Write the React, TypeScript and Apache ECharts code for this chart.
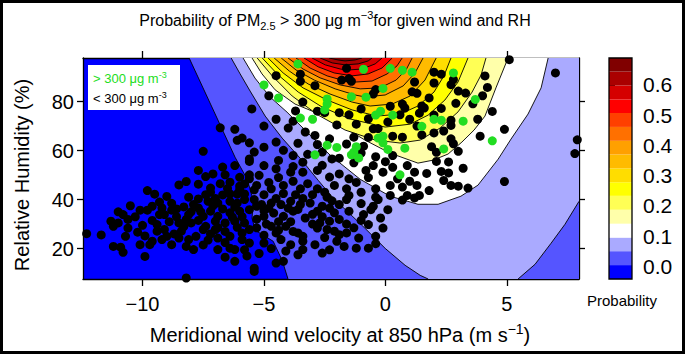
import React, { useEffect, useRef } from "react";
import * as echarts from "echarts";

const FONT = "'Liberation Sans', Arial, sans-serif";

// Axis limits and ticks
const X_MIN = -12.45;
const X_MAX = 7.97;
const Y_MIN = 7.6;
const Y_MAX = 97.8;
const xTicks = [-10, -5, 0, 5];
const yTicks = [20, 40, 60, 80];
const probTicks = [0, 0.1, 0.2, 0.3, 0.4, 0.5, 0.6];

// Probability levels of the filled contours (16 bands)
const levels = [-0.042, 0.004, 0.05, 0.095, 0.141, 0.187, 0.233, 0.278, 0.324, 0.37, 0.415, 0.461, 0.507, 0.552, 0.598, 0.644, 0.689];
const bandColors = ["#0000FF", "#5555FF", "#AAAAFF", "#FFFFFF", "#FFFFAA", "#FFFF55", "#FFFF00", "#FFDD00", "#FFBB00", "#FFA000", "#FF7000", "#FF4000", "#FF0000", "#D50000", "#AA0000", "#800000"];

// Contour lines (wind, RH)
const contour1 = [[-8.08, 97.8], [-7.05, 75.8], [-6.19, 57.3], [-5.69, 48.3], [-5.44, 39.8], [-5.49, 32.4], [-5.36, 27.5], [-4.62, 23.0], [-4.25, 15.2], [-4.01, 7.6]];
const contour2a = [[-6.35, 97.8], [-5.98, 91.3], [-5.57, 84.3], [-4.95, 74.1], [-4.25, 65.1], [-3.51, 56.9], [-2.77, 47.9], [-2.15, 40.6], [-1.58, 35.3], [-0.84, 28.3], [-0.01, 20.1], [0.81, 13.2], [1.43, 9.1], [1.76, 7.6]];
const contour2b = [[5.46, 7.6], [6.16, 13.6], [6.82, 22.2], [7.39, 29.9], [7.97, 39.3]];
const contour3 = [[-5.86, 97.8], [-5.37, 89.6], [-4.75, 81.9], [-4.05, 75.7], [-3.31, 68.4], [-2.28, 58.2], [-1.04, 48.3], [0.19, 41.4], [1.34, 38.1], [2.17, 38.1], [3.11, 41.4], [3.81, 45.9], [4.64, 56.5], [5.17, 64.7], [5.87, 74.9], [6.41, 85.6], [6.7, 97.8]];
const contour4 = [[-5.49, 97.8], [-5.08, 91.3], [-4.54, 84.8], [-3.72, 79.0], [-2.81, 75.3], [-1.86, 70.4], [-0.84, 64.3], [0.19, 59.0], [1.34, 54.9], [1.96, 56.1], [2.58, 58.6], [3.15, 63.5], [3.65, 68.4], [4.1, 74.1], [4.55, 85.6], [5.05, 97.8]];
const contour5 = [[-5.28, 97.8], [-4.66, 90.5], [-3.84, 82.3], [-2.77, 74.5], [-1.66, 68.4], [-0.42, 64.3], [0.6, 63.1], [1.43, 64.3], [2.25, 69.2], [2.99, 75.8], [3.57, 83.9], [3.94, 90.9], [4.14, 97.8]];
const contour6 = [[-5.07, 97.8], [-4.42, 90.9], [-3.59, 83.9], [-2.61, 77.8], [-1.45, 72.9], [-0.01, 69.6], [1.02, 70.8], [1.76, 74.5], [2.45, 80.65], [2.99, 88.0], [3.4, 97.8]];
const contour7 = [[-4.83, 97.8], [-4.21, 91.7], [-3.39, 85.6], [-2.4, 80.65], [-1.37, 76.6], [-0.34, 74.1], [0.6, 74.9], [1.34, 78.2], [2.0, 83.9], [2.41, 90.5], [2.7, 97.8]];
const contour8 = [[-4.58, 97.8], [-3.96, 92.5], [-3.18, 87.2], [-2.28, 83.1], [-1.37, 79.8], [-0.63, 78.2], [0.28, 79.0], [1.02, 82.3], [1.63, 88.8], [2.09, 97.8]];
const contour9 = [[-4.29, 97.8], [-3.68, 92.9], [-2.93, 88.8], [-2.07, 85.2], [-1.25, 82.7], [-0.84, 81.9], [-0.01, 82.7], [0.73, 86.4], [1.22, 91.7], [1.55, 97.8]];
const contour10 = [[-4.01, 97.8], [-3.39, 93.3], [-2.69, 89.7], [-1.86, 86.8], [-1.04, 85.2], [-0.22, 85.6], [0.44, 88.8], [0.85, 92.9], [1.1, 97.8]];
const contour11 = [[-3.68, 97.8], [-3.1, 93.7], [-2.4, 90.5], [-1.66, 88.4], [-1.21, 88.0], [-0.55, 88.4], [0.07, 91.3], [0.48, 94.6], [0.69, 97.8]];
const contour12 = [[-3.35, 97.8], [-2.77, 94.2], [-2.11, 91.7], [-1.37, 90.5], [-0.71, 91.3], [-0.14, 93.7], [0.28, 97.8]];
const contour13 = [[-3.02, 97.8], [-2.48, 95.0], [-1.86, 93.3], [-1.54, 92.9], [-0.96, 93.3], [-0.42, 95.4], [-0.14, 97.8]];
const contour14 = [[-2.69, 97.8], [-2.19, 95.8], [-1.66, 95.0], [-1.12, 95.4], [-0.71, 96.6], [-0.55, 97.8]];
const contour15 = [[-2.32, 97.8], [-1.95, 97.0], [-1.66, 96.6], [-1.25, 97.0], [-0.96, 97.8]];

// Observations with PM2.5 > 300 (green)
const highPoints = [[-3.6, 95.4], [-0.9, 93.2], [0.2, 93.6], [0.7, 92.8], [1.1, 92.0], [-5.0, 86.8], [-4.4, 81.5], [-2.4, 81.1], [-2.4, 79.0], [-2.5, 76.6], [-1.4, 82.0], [-0.8, 81.8], [-0.1, 85.4], [-0.2, 76.1], [-0.4, 74.5], [0.3, 74.5], [2.8, 91.7], [3.7, 80.9], [2.0, 72.8], [2.3, 72.4], [1.5, 69.9], [3.2, 72.0], [4.4, 64.0], [2.4, 60.7], [-3.5, 73.3], [-3.0, 72.8], [-0.3, 65.1], [-0.1, 65.9], [-0.1, 63.2], [0.1, 60.5], [0.8, 61.0], [-1.2, 61.6], [-1.3, 59.4], [-1.4, 58.3], [-1.1, 57.0], [-2.0, 61.3], [-2.4, 62.2], [-2.9, 58.3], [0.6, 50.1]];

// Observations with PM2.5 < 300 (black)
const lowPoints = [
  [-1.6, 93.6], [-3.5, 91.2], [-3.5, 88.3], [-4.5, 90.6], [-1.8, 88.8], [-1.5, 89.4], [-1.4, 88.3], [-2.9, 86.5], [1.2, 88.0], [-0.4, 84.9], [-0.5, 83.1], [1.1, 84.0], [1.3, 83.4], [-4.8, 82.4], [-3.4, 79.8], [-3.7, 76.2], [-2.8, 76.1], [-1.9, 75.5], [-1.0, 77.0], [0.2, 78.1], [0.7, 79.0], [0.8, 77.4], [1.4, 75.3], [-5.5, 77.0],
  [2.0, 92.0], [2.3, 91.2], [2.8, 89.0], [2.7, 86.9], [2.0, 87.6], [4.1, 90.5], [4.2, 85.8], [3.0, 84.3], [3.3, 83.5], [4.0, 82.4], [3.6, 79.1], [2.9, 79.3], [1.8, 81.5], [1.5, 78.2], [1.6, 77.4], [2.3, 77.2], [4.4, 76.0], [5.1, 97.1], [7.0, 91.7], [2.0, 74.5],
  [2.7, 72.4], [2.7, 70.3], [1.5, 66.4], [2.0, 67.2], [2.4, 68.0], [3.8, 72.8], [4.9, 68.7], [3.9, 65.9], [2.7, 64.8], [2.8, 62.8], [1.9, 61.6], [2.1, 59.3], [3.0, 59.7], [2.6, 55.4], [2.1, 55.6], [3.2, 52.8], [1.7, 50.7], [2.3, 51.5], [2.6, 50.9], [2.4, 47.8], [2.7, 45.8], [3.0, 45.5], [3.4, 44.7], [1.8, 43.7], [1.4, 41.7], [4.9, 47.4], [7.9, 64.4], [7.8, 58.8],
  [-2.5, 75.5], [-1.5, 74.6], [-1.2, 70.8], [-0.7, 73.0], [0.1, 71.7], [0.6, 74.6], [1.0, 72.8], [1.3, 70.0], [-0.5, 68.9], [-0.7, 65.4], [0.3, 65.9], [0.7, 65.5], [0.3, 58.0], [-0.9, 61.8], [-1.6, 62.7], [-2.3, 64.8], [-2.9, 66.2], [-3.3, 67.6], [-4.0, 69.2], [-4.5, 72.8], [-4.5, 63.5], [-2.6, 59.4], [-2.2, 56.6], [-1.9, 56.9], [-3.4, 55.3], [-3.8, 58.0], [-4.2, 60.1], [-5.0, 61.4], [-5.4, 59.4], [-5.6, 56.6], [-5.0, 53.9], [-4.5, 52.6], [-3.9, 51.2], [-3.4, 51.2], [-2.8, 51.9], [-2.3, 49.2], [-1.9, 50.5], [-1.5, 48.5], [-0.8, 51.9], [-0.5, 53.9], [-0.1, 51.2], [0.3, 53.2], [0.9, 53.9], [1.2, 51.2], [0.2, 45.8], [0.7, 45.1], [1.3, 45.8], [-0.4, 44.4], [-1.0, 43.0], [-1.6, 44.4], [-2.1, 45.8], [-2.8, 44.4], [-3.5, 44.4], [-4.2, 45.8], [-4.7, 44.4], [-5.3, 45.8], [-5.2, 49.9], [-5.6, 48.5], [-0.4, 41.0], [0.2, 41.7], [0.9, 41.7], [-1.5, 41.7], [-2.4, 41.0],
  [-6.8, 69.3], [-6.2, 68.7], [-6.1, 64.2], [-5.9, 65.1], [-5.6, 63.2], [-7.5, 59.7], [-5.6, 55.6], [-6.2, 53.9], [-6.7, 53.3], [-7.7, 51.9], [-6.6, 50.1], [-7.1, 50.5], [-7.4, 49.4], [-6.0, 49.1], [-5.6, 50.1], [-8.2, 47.4], [-8.5, 46.0], [-7.7, 46.3], [-6.4, 47.1], [-6.0, 45.5], [-5.8, 46.4], [-7.2, 44.7], [-7.2, 43.0], [-9.8, 43.7], [-9.5, 42.2], [-9.0, 41.3], [-8.1, 41.0], [-7.7, 40.3], [-6.7, 41.9], [-6.4, 42.3], [-6.1, 42.3], [-5.8, 42.3],
  [-12.3, 26.1], [-11.7, 25.6], [-11.2, 20.9], [-10.8, 18.5], [-10.9, 20.6], [-11.3, 31.2], [-11.2, 29.1], [-11.0, 30.5], [-10.8, 33.9], [-10.6, 31.9], [-10.6, 28.4], [-10.7, 25.0], [-10.2, 26.7], [-10.1, 21.6], [-9.9, 16.8], [-10.1, 35.7], [-9.8, 35.7], [-9.6, 37.3], [-9.2, 36.6], [-9.3, 33.9], [-9.1, 33.9], [-8.8, 35.7], [-8.6, 36.2], [-9.4, 29.8], [-9.4, 27.1], [-9.1, 27.8], [-9.0, 25.0], [-9.2, 23.7], [-9.6, 23.0], [-9.7, 21.6], [-8.8, 21.6], [-8.5, 24.3], [-8.4, 27.1], [-8.5, 30.5], [-8.2, 31.9], [-8.0, 30.5], [-8.1, 33.9], [-7.7, 36.6], [-7.3, 39.3], [-7.2, 35.3], [-7.5, 33.2], [-7.4, 29.1], [-7.5, 27.8], [-7.8, 25.0], [-8.1, 23.7], [-8.2, 20.9], [-7.9, 19.6], [-6.9, 38.6], [-6.4, 39.3], [-6.1, 38.6], [-5.8, 40.0], [-5.6, 35.9], [-6.0, 35.3], [-6.4, 34.6], [-6.9, 33.2], [-7.0, 31.2], [-6.6, 30.5], [-6.2, 31.2], [-5.8, 30.5], [-5.6, 27.8], [-5.9, 26.4], [-6.4, 25.0], [-6.9, 24.3], [-6.4, 20.2], [-6.2, 19.6], [-6.9, 19.6], [-6.2, 14.8], [-5.9, 23.7], [-5.6, 22.3], [-7.0, 27.8], [-8.2, 8.0],
  [-5.4, 12.0], [-4.5, 14.1], [-4.2, 14.8], [-5.0, 22.3], [-4.3, 23.7], [-3.9, 21.6], [-3.4, 19.6], [-3.4, 23.0], [-2.9, 21.6], [-2.6, 18.2], [-1.7, 20.9], [-1.2, 20.2], [-1.1, 24.3], [-0.7, 20.2], [-0.4, 25.0], [-0.1, 28.4], [-0.2, 32.5], [-0.6, 35.9], [-0.5, 37.3], [0.1, 35.9], [-0.3, 40.0], [-1.0, 38.4], [-0.9, 33.9], [-0.7, 29.8], [-1.5, 35.3], [-1.9, 38.0], [-2.1, 34.6], [-1.9, 31.9], [-2.3, 31.2], [-2.7, 30.5], [-2.8, 28.4], [-2.4, 27.8], [-2.1, 27.1], [-1.6, 26.4], [-1.9, 25.7], [-3.3, 32.5], [-3.5, 38.0], [-3.1, 38.6], [-2.6, 37.3], [-2.8, 35.3], [-3.8, 35.3], [-4.2, 33.2], [-4.1, 29.1], [-3.6, 26.4], [-3.4, 25.0], [-4.5, 26.4], [-4.7, 29.1], [-5.0, 33.2], [-5.3, 37.3], [-4.7, 38.6], [-4.3, 38.0], [-3.9, 39.3], [0.7, 39.8], [1.2, 40.7], [-5.4, 10.7],
  [-7.9, 38.0], [-7.6, 35.0], [-7.1, 37.5], [-6.7, 36.2], [-6.2, 37.0], [-5.9, 33.0], [-5.3, 32.0], [-5.0, 35.5], [-4.6, 34.5], [-4.4, 31.0], [-4.9, 30.0], [-5.3, 28.5], [-5.0, 25.5], [-4.4, 27.5], [-3.9, 31.0], [-3.8, 27.0], [-4.0, 36.5], [-4.5, 40.5], [-5.0, 42.0], [-5.4, 40.0], [-4.8, 47.0], [-4.4, 49.0], [-3.8, 47.5], [-3.2, 46.5], [-3.0, 42.0], [-3.4, 40.5], [-2.5, 43.0], [-2.2, 39.5], [-6.9, 28.6], [-7.2, 26.0], [-6.6, 27.0], [-6.1, 28.7], [-6.3, 32.8], [-7.7, 31.5], [-8.3, 29.0], [-8.7, 26.0], [-8.9, 31.0], [-9.6, 31.5], [-10.0, 29.5], [-9.9, 25.2], [-8.6, 33.0], [-8.0, 35.0], [-7.0, 40.5], [-6.0, 44.0], [-5.4, 44.0], [-6.8, 46.5], [-4.2, 42.5], [-3.7, 42.0], [-6.6, 22.5], [-7.3, 23.5], [-5.8, 19.5], [-5.2, 18.0], [-4.7, 20.0], [-3.6, 17.5], [-2.0, 23.0], [-1.3, 28.5], [-1.0, 31.5], [-1.6, 30.0], [-2.6, 33.0], [-3.0, 30.0], [-2.5, 24.5], [-1.2, 47.0], [-0.7, 49.0], [0.5, 48.5], [1.0, 47.5], [0.0, 55.5], [-1.3, 55.0], [-2.6, 54.0], [-3.8, 53.5], [-4.4, 56.0], [-3.2, 58.5], [-1.0, 59.0], [-0.4, 57.5], [-2.8, 62.5], [-1.3, 65.5], [-3.6, 63.0], [-0.3, 69.0], [-2.0, 70.5], [-3.8, 72.0], [-5.0, 70.0],
  [-8.8, 38.5], [-8.3, 37.0], [-9.3, 39.0], [-10.5, 37.5], [-11.0, 35.0], [-10.3, 33.0], [-7.4, 42.0], [-6.5, 44.5], [-5.1, 38.0], [-4.8, 36.5], [-3.6, 36.0], [-3.0, 34.0], [-2.3, 36.5], [-1.6, 40.0], [-5.7, 17.0], [-6.6, 16.5], [-7.5, 21.5], [-4.1, 19.0], [-2.3, 19.5], [-0.4, 22.0]
];

// Each contour level: its line(s) and the plot corners that close its "above" region
const contours = [
  { lines: [contour1], close: [[X_MAX, Y_MIN], [X_MAX, Y_MAX]] },
  { lines: [contour2a, contour2b], close: [[X_MAX, Y_MAX]] },
  { lines: [contour3], close: [] },
  { lines: [contour4], close: [] },
  { lines: [contour5], close: [] },
  { lines: [contour6], close: [] },
  { lines: [contour7], close: [] },
  { lines: [contour8], close: [] },
  { lines: [contour9], close: [] },
  { lines: [contour10], close: [] },
  { lines: [contour11], close: [] },
  { lines: [contour12], close: [] },
  { lines: [contour13], close: [] },
  { lines: [contour14], close: [] },
  { lines: [contour15], close: [] },
];

const minus = (v: number) => String(v).replace("-", "\u2212");

export default function App() {
  const ref = useRef<HTMLDivElement>(null);
  useEffect(() => {
    if (!ref.current) return;
    const chart = echarts.init(ref.current, null, { renderer: "svg" });
    const axisBlack = { lineStyle: { color: "#000", width: 1.3 } };
    const option: any = {
      animation: false,
      backgroundColor: "#fff",
      grid: [
        { left: 83, top: 58, width: 496, height: 221, show: true, backgroundColor: bandColors[0], borderWidth: 0 },
        { left: 609, top: 58, width: 23, height: 221, show: false },
      ],
      xAxis: [
        {
          gridIndex: 0, type: "value", min: X_MIN, max: X_MAX, position: "bottom",
          axisLine: { show: true, onZero: false, ...axisBlack },
          axisTick: { show: true, customValues: xTicks, length: 7, ...axisBlack },
          axisLabel: { show: true, customValues: xTicks, formatter: (v: number) => minus(v), fontSize: 20, color: "#000", fontFamily: FONT, margin: 15 },
          splitLine: { show: false },
        },
        {
          gridIndex: 0, type: "value", min: X_MIN, max: X_MAX, position: "top",
          axisLine: { show: true, onZero: false, ...axisBlack },
          axisTick: { show: true, customValues: xTicks, length: 7, ...axisBlack },
          axisLabel: { show: false },
          splitLine: { show: false },
        },
        { gridIndex: 1, type: "value", min: 0, max: 1, show: false },
      ],
      yAxis: [
        {
          gridIndex: 0, type: "value", min: Y_MIN, max: Y_MAX, position: "left",
          axisLine: { show: true, onZero: false, ...axisBlack },
          axisTick: { show: true, customValues: yTicks, length: 6, ...axisBlack },
          axisLabel: { show: true, customValues: yTicks, fontSize: 20, color: "#000", fontFamily: FONT, margin: 9 },
          splitLine: { show: false },
        },
        {
          gridIndex: 0, type: "value", min: Y_MIN, max: Y_MAX, position: "right",
          axisLine: { show: true, onZero: false, ...axisBlack },
          axisTick: { show: true, customValues: yTicks, length: 6, ...axisBlack },
          axisLabel: { show: false },
          splitLine: { show: false },
        },
        {
          gridIndex: 1, type: "value", min: levels[0], max: levels[levels.length - 1], position: "right",
          axisLine: { show: false },
          axisTick: { show: true, customValues: probTicks, length: 6, lineStyle: { color: "#000", width: 1 } },
          axisLabel: { show: true, customValues: probTicks, formatter: (v: number) => v.toFixed(1), fontSize: 21, color: "#000", fontFamily: FONT, margin: 11 },
          splitLine: { show: false },
        },
      ],
      series: [
        {
          type: "custom",
          xAxisIndex: 0,
          yAxisIndex: 0,
          clip: true,
          z: 1,
          data: contours.map((c) => c.lines[0][0]),
          renderItem: (params: any, api: any) => {
            const c = contours[params.dataIndex];
            const pts: number[][] = [];
            c.lines.forEach((l) => l.forEach((p) => pts.push(api.coord(p))));
            c.close.forEach((p) => pts.push(api.coord(p)));
            const children: any[] = [
              { type: "polygon", shape: { points: pts }, style: { fill: bandColors[params.dataIndex + 1], stroke: null } },
            ];
            c.lines.forEach((l) => {
              children.push({
                type: "polyline",
                shape: { points: l.map((p) => api.coord(p)) },
                style: { stroke: "#000", lineWidth: 0.9, fill: null },
              });
            });
            return { type: "group", children };
          },
        },
        {
          type: "scatter",
          xAxisIndex: 0,
          yAxisIndex: 0,
          z: 3,
          symbolSize: 9,
          itemStyle: { color: "#000", opacity: 1 },
          data: lowPoints,
        },
        {
          type: "scatter",
          xAxisIndex: 0,
          yAxisIndex: 0,
          z: 4,
          symbolSize: 9,
          itemStyle: { color: "#22DD22", opacity: 1 },
          data: highPoints,
        },
        {
          type: "custom",
          xAxisIndex: 2,
          yAxisIndex: 2,
          z: 2,
          data: levels.map((l) => [0.5, l]),
          renderItem: (params: any, api: any) => {
            const i = params.dataIndex;
            if (i < bandColors.length) {
              const a = api.coord([0, levels[i]]);
              const b = api.coord([1, levels[i + 1]]);
              return { type: "rect", shape: { x: a[0], y: b[1], width: b[0] - a[0], height: a[1] - b[1] }, style: { fill: bandColors[i], stroke: null } };
            }
            const a = api.coord([0, levels[0]]);
            const b = api.coord([1, levels[levels.length - 1]]);
            return { type: "rect", shape: { x: a[0], y: b[1], width: b[0] - a[0], height: a[1] - b[1] }, style: { fill: null, stroke: "#000", lineWidth: 1.3 } };
          },
        },
      ],
      graphic: [
        { type: "rect", shape: { x: 1.5, y: 1.5, width: 682, height: 351 }, style: { fill: null, stroke: "#000", lineWidth: 3 }, z: 100 },
        {
          type: "text", x: 335, y: 20, z: 100,
          style: {
            text: "{t|Probability of PM}{s|2.5}{t| > 300 \u03bcg m}{p|\u22123}{t|for given wind and RH}",
            align: "center", verticalAlign: "middle",
            rich: {
              t: { fontSize: 16, fontFamily: FONT, fill: "#000", lineHeight: 22 },
              s: { fontSize: 11, fontFamily: FONT, fill: "#000", lineHeight: 12, verticalAlign: "bottom" },
              p: { fontSize: 11, fontFamily: FONT, fill: "#000", lineHeight: 12, verticalAlign: "top" },
            },
          },
        },
        {
          type: "text", x: 340, y: 335, z: 100,
          style: {
            text: "{t|Meridional wind velocity at 850 hPa (m s}{p|\u22121}{t|)}",
            align: "center", verticalAlign: "middle",
            rich: {
              t: { fontSize: 20, fontFamily: FONT, fill: "#000", lineHeight: 26 },
              p: { fontSize: 14, fontFamily: FONT, fill: "#000", lineHeight: 14, verticalAlign: "top" },
            },
          },
        },
        {
          type: "text", x: 22, y: 175, rotation: Math.PI / 2, z: 100,
          style: { text: "Relative Humidity (%)", fontSize: 20, fontFamily: FONT, fill: "#000", align: "center", verticalAlign: "middle" },
        },
        {
          type: "text", x: 622, y: 300, z: 100,
          style: { text: "Probability", fontSize: 15, fontFamily: FONT, fill: "#000", align: "center", verticalAlign: "middle" },
        },
        { type: "rect", shape: { x: 88, y: 65, width: 92, height: 45 }, style: { fill: "#fff", stroke: null }, z: 100 },
        {
          type: "text", x: 93, y: 78, z: 101,
          style: {
            text: "{g|> 300 \u03bcg m}{gs|-3}",
            align: "left", verticalAlign: "middle",
            rich: {
              g: { fontSize: 13, fontFamily: FONT, fill: "#22DD22", lineHeight: 16 },
              gs: { fontSize: 9, fontFamily: FONT, fill: "#22DD22", lineHeight: 9, verticalAlign: "top" },
            },
          },
        },
        {
          type: "text", x: 93, y: 98, z: 101,
          style: {
            text: "{b|< 300 \u03bcg m}{bs|-3}",
            align: "left", verticalAlign: "middle",
            rich: {
              b: { fontSize: 13, fontFamily: FONT, fill: "#000", lineHeight: 16 },
              bs: { fontSize: 9, fontFamily: FONT, fill: "#000", lineHeight: 9, verticalAlign: "top" },
            },
          },
        },
      ],
    };
    chart.setOption(option);
    return () => chart.dispose();
  }, []);
  return (
    <div
      ref={ref}
      style={{ position: "fixed", left: 0, top: 0, width: 685, height: 354, background: "#fff" }}
    />
  );
}
